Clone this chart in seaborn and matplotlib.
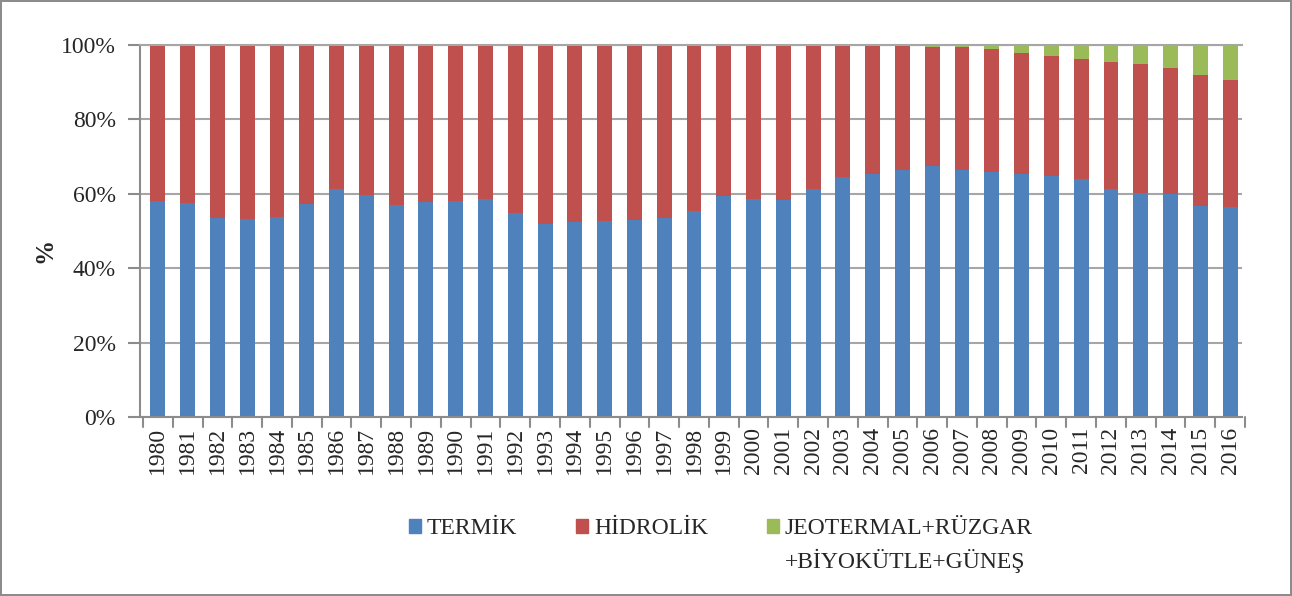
import matplotlib
matplotlib.use("Agg")
import matplotlib.pyplot as plt
import seaborn as sns
import numpy as np
import pandas as pd
from matplotlib.patches import Patch

years = [str(y) for y in range(1980, 2017)]
termik = [58.1, 57.4, 53.4, 53.1, 53.8, 57.2, 61.3, 59.6, 57.0, 57.9,
          58.1, 58.5, 54.9, 52.0, 52.5, 52.7, 52.9, 53.5, 55.5, 59.5,
          58.6, 58.4, 61.3, 64.4, 65.3, 66.5, 67.4, 66.5, 65.8, 65.4,
          64.9, 63.9, 61.2, 60.1, 60.0, 56.7, 56.4]
yenilenebilir = [0.0, 0.0, 0.0, 0.0, 0.1, 0.1, 0.1, 0.1, 0.1, 0.1,
                 0.1, 0.1, 0.1, 0.1, 0.1, 0.1, 0.2, 0.2, 0.2, 0.2,
                 0.2, 0.2, 0.2, 0.2, 0.3, 0.3, 0.5, 0.6, 1.2, 2.2,
                 3.0, 3.8, 4.5, 5.0, 6.1, 8.1, 9.3]
hidrolik = [round(100 - t - g, 1) for t, g in zip(termik, yenilenebilir)]

labels = ["TERMİK", "HİDROLİK", "JEOTERMAL+RÜZGAR"]
label3_line2 = "+BİYOKÜTLE+GÜNEŞ"
colors = ["#4F81BD", "#C0504D", "#9BBB59"]
yticks = [0, 20, 40, 60, 80, 100]
ytick_labels = ["0%", "20%", "40%", "60%", "80%", "100%"]

df = pd.DataFrame({"year": years, "termik": termik, "hidrolik": hidrolik,
                   "yen": yenilenebilir})
df["c1"] = df["termik"]
df["c2"] = df["termik"] + df["hidrolik"]
df["c3"] = df["c2"] + df["yen"]

sns.set_theme(style="white")
plt.rcParams["font.family"] = "serif"
plt.rcParams["font.serif"] = ["Liberation Serif", "DejaVu Serif"]

fig = plt.figure(figsize=(12.92, 5.96), dpi=100)
ax = fig.add_axes([140 / 1292, 1 - 417 / 596, 1102 / 1292, 372 / 596])

ax.set_axisbelow(True)
ax.yaxis.grid(True, color="#A6A6A6", linewidth=1.5)

for col, c in zip(["c3", "c2", "c1"], [colors[2], colors[1], colors[0]]):
    sns.barplot(data=df, x="year", y=col, color=c, width=0.5, ax=ax,
                saturation=1, edgecolor=c, linewidth=0)

ax.set_xlim(-0.6, 36.4)
ax.set_ylim(0, 100)
ax.set_yticks(yticks)
ax.set_yticklabels(ytick_labels, fontsize=17)
ax.set_xticks(range(len(years)))
ax.set_xticklabels(years, rotation=90, fontsize=17)
ax.tick_params(axis="x", length=0, pad=7)
ax.tick_params(axis="y", length=8.5, color="#8C8C8C", width=1.5, pad=9, left=True)
ax.set_xlabel("")
ax.set_ylabel("%", fontsize=18, fontweight="bold", va="center")
ax.yaxis.set_label_coords(-0.086, 0.449)
for x in np.arange(-0.5, 37, 1):
    ax.plot([x, x], [0, -2.8], color="#8C8C8C", lw=1.5, clip_on=False)

ax.spines["right"].set_visible(False)
ax.spines["top"].set_color("#A6A6A6")
ax.spines["top"].set_linewidth(1.5)
for s in ["left", "bottom"]:
    ax.spines[s].set_color("#8C8C8C")
    ax.spines[s].set_linewidth(1.5)

handles = [Patch(facecolor=c, edgecolor=c) for c in colors]
leg = fig.legend(handles, labels, loc="upper left",
                 bbox_to_anchor=(388 / 1292, 1 - 497 / 596),
                 ncol=3, frameon=False, fontsize=17, handlelength=0.5, handleheight=0.5,
                 handletextpad=0.25, columnspacing=2.5)

fig.canvas.draw()
t3 = leg.get_texts()[2]
bb = t3.get_window_extent(renderer=fig.canvas.get_renderer())
x0, y0 = fig.transFigure.inverted().transform((bb.x0, bb.y0))
fig.text(x0, y0 - 10 / 596, label3_line2, fontsize=17, ha="left", va="top")

fig.patch.set_edgecolor("#8C8C8C")
fig.patch.set_linewidth(1.5)
fig.savefig("out.png", dpi=100, edgecolor=fig.get_edgecolor())
